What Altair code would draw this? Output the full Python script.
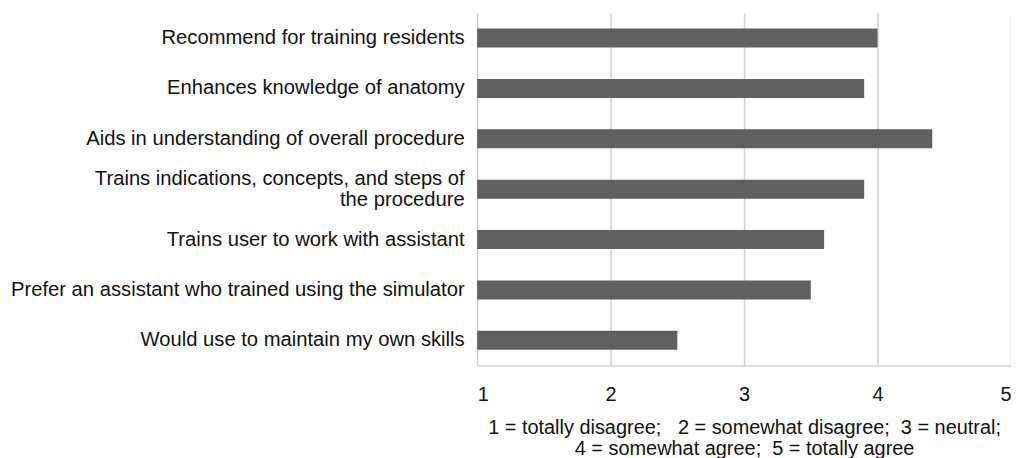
import altair as alt
import pandas as pd

statements = [
    "Recommend for training residents",
    "Enhances knowledge of anatomy",
    "Aids in understanding of overall procedure",
    "Trains indications, concepts, and steps of|the procedure",
    "Trains user to work with assistant",
    "Prefer an assistant who trained using the simulator",
    "Would use to maintain my own skills",
]
scores = [4.0, 3.9, 4.41, 3.9, 3.6, 3.5, 2.5]
base_value = [1, 1, 1, 1, 1, 1, 1]
x_ticks = [1, 2, 3, 4, 5]
x_title = [
    "1 = totally disagree;\u00a0\u00a0 2 = somewhat disagree;\u00a0 3 = neutral;",
    "4 = somewhat agree;\u00a0 5 = totally agree",
]

df = pd.DataFrame({"statement": statements, "score": scores, "base": base_value})

font = "Liberation Sans"
txt = "#111111"

chart = (
    alt.Chart(df)
    .mark_bar(color="#606060", size=19)
    .encode(
        y=alt.Y(
            "statement:N",
            sort=None,
            title=None,
            axis=alt.Axis(
                labelExpr="split(datum.label, '|')",
                labelFontSize=20.3,
                labelFont=font,
                labelColor=txt,
                labelPadding=13,
                labelLimit=800,
                labelOffset={"expr": "indexof(datum.label, '|') >= 0 ? -10 : 0"},
                ticks=False,
                domain=False,
                grid=False,
                labelLineHeight=21,
            ),
            scale=alt.Scale(paddingInner=0, paddingOuter=0),
        ),
        x=alt.X(
            "score:Q",
            scale=alt.Scale(domain=[1, 5], nice=False, zero=False),
            title=x_title,
            axis=alt.Axis(
                values=x_ticks,
                format="d",
                labelFontSize=20,
                labelFont=font,
                labelColor=txt,
                labelPadding=19,
                ticks=False,
                domain=True,
                domainColor="#d0d0d0",
                domainWidth=1.5,
                gridColor="#d0d0d0",
                gridWidth=1.5,
                titleFont=font,
                titleFontSize=20,
                titleFontWeight="normal",
                titleColor=txt,
                titlePadding=13,
                titleLineHeight=21,
            ),
        ),
        x2="base:Q",
    )
    .properties(width=536, height=354, padding={"top": 4, "left": 2, "right": 0, "bottom": 0})
    .configure_view(stroke=None)
)

chart.save("out.html", embed_options={"renderer": "svg", "actions": False})
